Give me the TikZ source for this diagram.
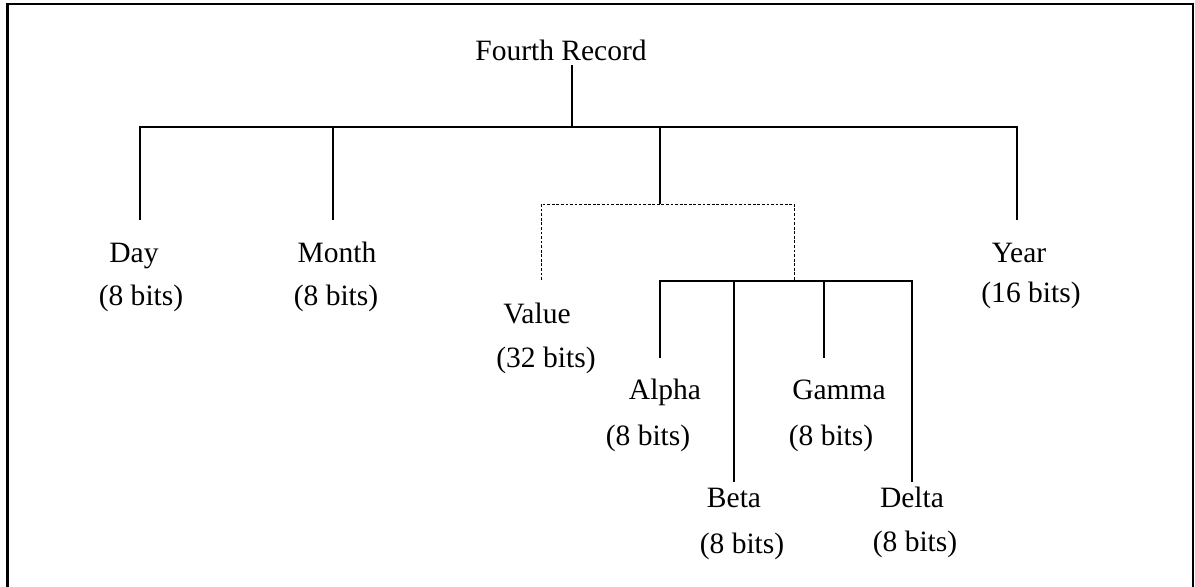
\documentclass[tikz,border=0pt]{standalone}
\usepackage{fontspec}
\setmainfont{Liberation Serif}

\tikzset{
  lbl/.style={anchor=base, inner sep=0pt, font=\fontsize{16.8}{20}\selectfont},
  stem/.style={line width=0.9pt},
  dotline/.style={line width=0.5pt, dash pattern=on 1.6pt off 1pt},
}

\begin{document}
\begin{tikzpicture}[x=0.02cm, y=-0.02cm]
        \useasboundingbox (0,0) rectangle (1195,586);
        % frame, open at the bottom
        \draw[line width=1.5pt] (7.5,590) -- (7.5,4) -- (1193,4) -- (1193,590);

        % labels
        \node[lbl] (rec) at (561,60) {Fourth Record};
        \node[lbl] (day) at (134,262) {Day};
        \node[lbl] (daybits) at (141,305) {(8 bits)};
        \node[lbl] (month) at (337,262) {Month};
        \node[lbl] (monthbits) at (336,305) {(8 bits)};
        \node[lbl] (value) at (537,323) {Value};
        \node[lbl] (valuebits) at (546,367) {(32 bits)};
        \node[lbl] (year) at (1019,262) {Year};
        \node[lbl] (yearbits) at (1031,302) {(16 bits)};
        \node[lbl] (alpha) at (665,399) {Alpha};
        \node[lbl] (alphabits) at (648,445) {(8 bits)};
        \node[lbl] (gamma) at (839,399) {Gamma};
        \node[lbl] (gammabits) at (831,445) {(8 bits)};
        \node[lbl] (beta) at (734,507) {Beta};
        \node[lbl] (betabits) at (742,553) {(8 bits)};
        \node[lbl] (delta) at (912,507) {Delta};
        \node[lbl] (deltabits) at (915,551) {(8 bits)};

        % junctions and stem ends
        \coordinate (root) at (572,65);
        \coordinate (rootj) at (572,127);
        \coordinate (barL) at (140,127);
        \coordinate (barR) at (1017,127);
        \coordinate (dayend) at (140,220);
        \coordinate (monthj) at (333,127);
        \coordinate (monthend) at (333,220);
        \coordinate (yearend) at (1017,220);
        \coordinate (valj) at (660,127);
        \coordinate (valsplit) at (660,204);
        \coordinate (dashL) at (541,204);
        \coordinate (dashR) at (794,204);
        \coordinate (valend) at (541,280);
        \coordinate (subj) at (794,281);
        \coordinate (subL) at (660,281);
        \coordinate (subR) at (912,281);
        \coordinate (alphaend) at (660,358);
        \coordinate (betaj) at (734,281);
        \coordinate (betaend) at (734,482);
        \coordinate (gammaj) at (824,281);
        \coordinate (gammaend) at (824,358);
        \coordinate (deltaend) at (912,482);

        % tree
        \draw[stem] (root) -- (rootj);
        \draw[stem] (dayend) -- (barL) -- (barR) -- (yearend);
        \draw[stem] (monthj) -- (monthend);
        \draw[stem] (valj) -- (valsplit);
        \draw[dotline] (valend) -- (dashL) -- (dashR) -- (subj);
        \draw[stem] (alphaend) -- (subL) -- (subR) -- (deltaend);
        \draw[stem] (betaj) -- (betaend);
        \draw[stem] (gammaj) -- (gammaend);
    \end{tikzpicture}
\end{document}
